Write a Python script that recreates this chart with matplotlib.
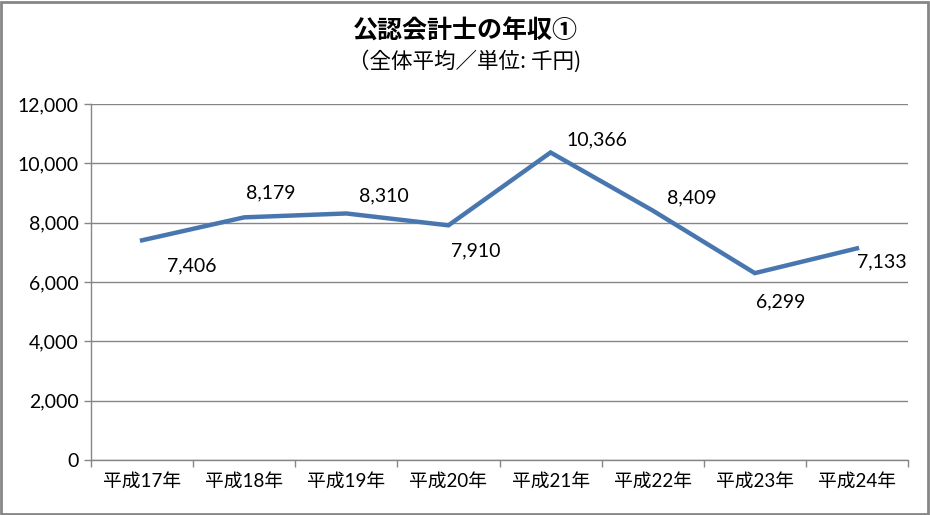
import matplotlib.pyplot as plt
from matplotlib.patches import Rectangle

years = ['平成17年', '平成18年', '平成19年', '平成20年', '平成21年', '平成22年', '平成23年', '平成24年']
income = [7406, 8179, 8310, 7910, 10366, 8409, 6299, 7133]
# label offsets in pixels (dx, dy)
label_offsets = [(50, -26), (27, 24), (38, 18), (27, -26), (46, 13), (39, 13), (26, -29), (25, -13)]

plt.rcParams['font.family'] = ['Lato', 'Noto Sans CJK JP', 'DejaVu Sans']

fig = plt.figure(figsize=(9.3, 5.15), dpi=100)
W, H = 930, 515
ax = fig.add_axes([91 / W, 1 - 460 / H, (908 - 91) / W, (460 - 104) / H])

x = range(len(years))
ax.plot(x, income, color='#4877B0', lw=3.2, solid_joinstyle='miter', zorder=3)

px = 72 / 100
for i, (v, (dx, dy)) in enumerate(zip(income, label_offsets)):
    ax.annotate(f'{v:,}', (i, v), xytext=(dx * px, dy * px), textcoords='offset points',
                ha='center', va='center', fontsize=14, color='#000000')

ax.set_xlim(-0.5, len(years) - 0.5)
ax.set_ylim(0, 12000)
ax.set_yticks(range(0, 12001, 2000))
ax.set_yticklabels([f'{t:,}' for t in range(0, 12001, 2000)], fontsize=14)
ax.yaxis.grid(True, color='#868686', lw=1)
ax.set_axisbelow(True)

ax.set_xticks(list(x))
ax.set_xticklabels(years, fontsize=13.5)
ax.set_xticks([i - 0.5 for i in range(len(years) + 1)], minor=True)
ax.tick_params(axis='x', which='major', length=0, pad=9)
ax.tick_params(axis='x', which='minor', length=5, color='#868686', width=1)
ax.tick_params(axis='y', length=5, color='#868686', width=1, pad=4)

for s in ['top', 'right']:
    ax.spines[s].set_visible(False)
for s in ['left', 'bottom']:
    ax.spines[s].set_color('#868686')
    ax.spines[s].set_linewidth(1)

fig.text(0.5, 1 - 32 / H, '公認会計士の年収①', ha='center', va='center',
         fontsize=18, fontweight='bold', family=['Noto Sans CJK JP'])
fig.text(0.5, 1 - 61 / H, '（全体平均／単位: 千円)', ha='center', va='center',
         fontsize=15.5, family=['Noto Sans CJK JP'])

fig.patches.append(Rectangle((0.001, 0.002), 0.997, 0.995, transform=fig.transFigure,
                             fill=False, edgecolor='#868686', lw=2))

fig.savefig('out.png', dpi=100)
